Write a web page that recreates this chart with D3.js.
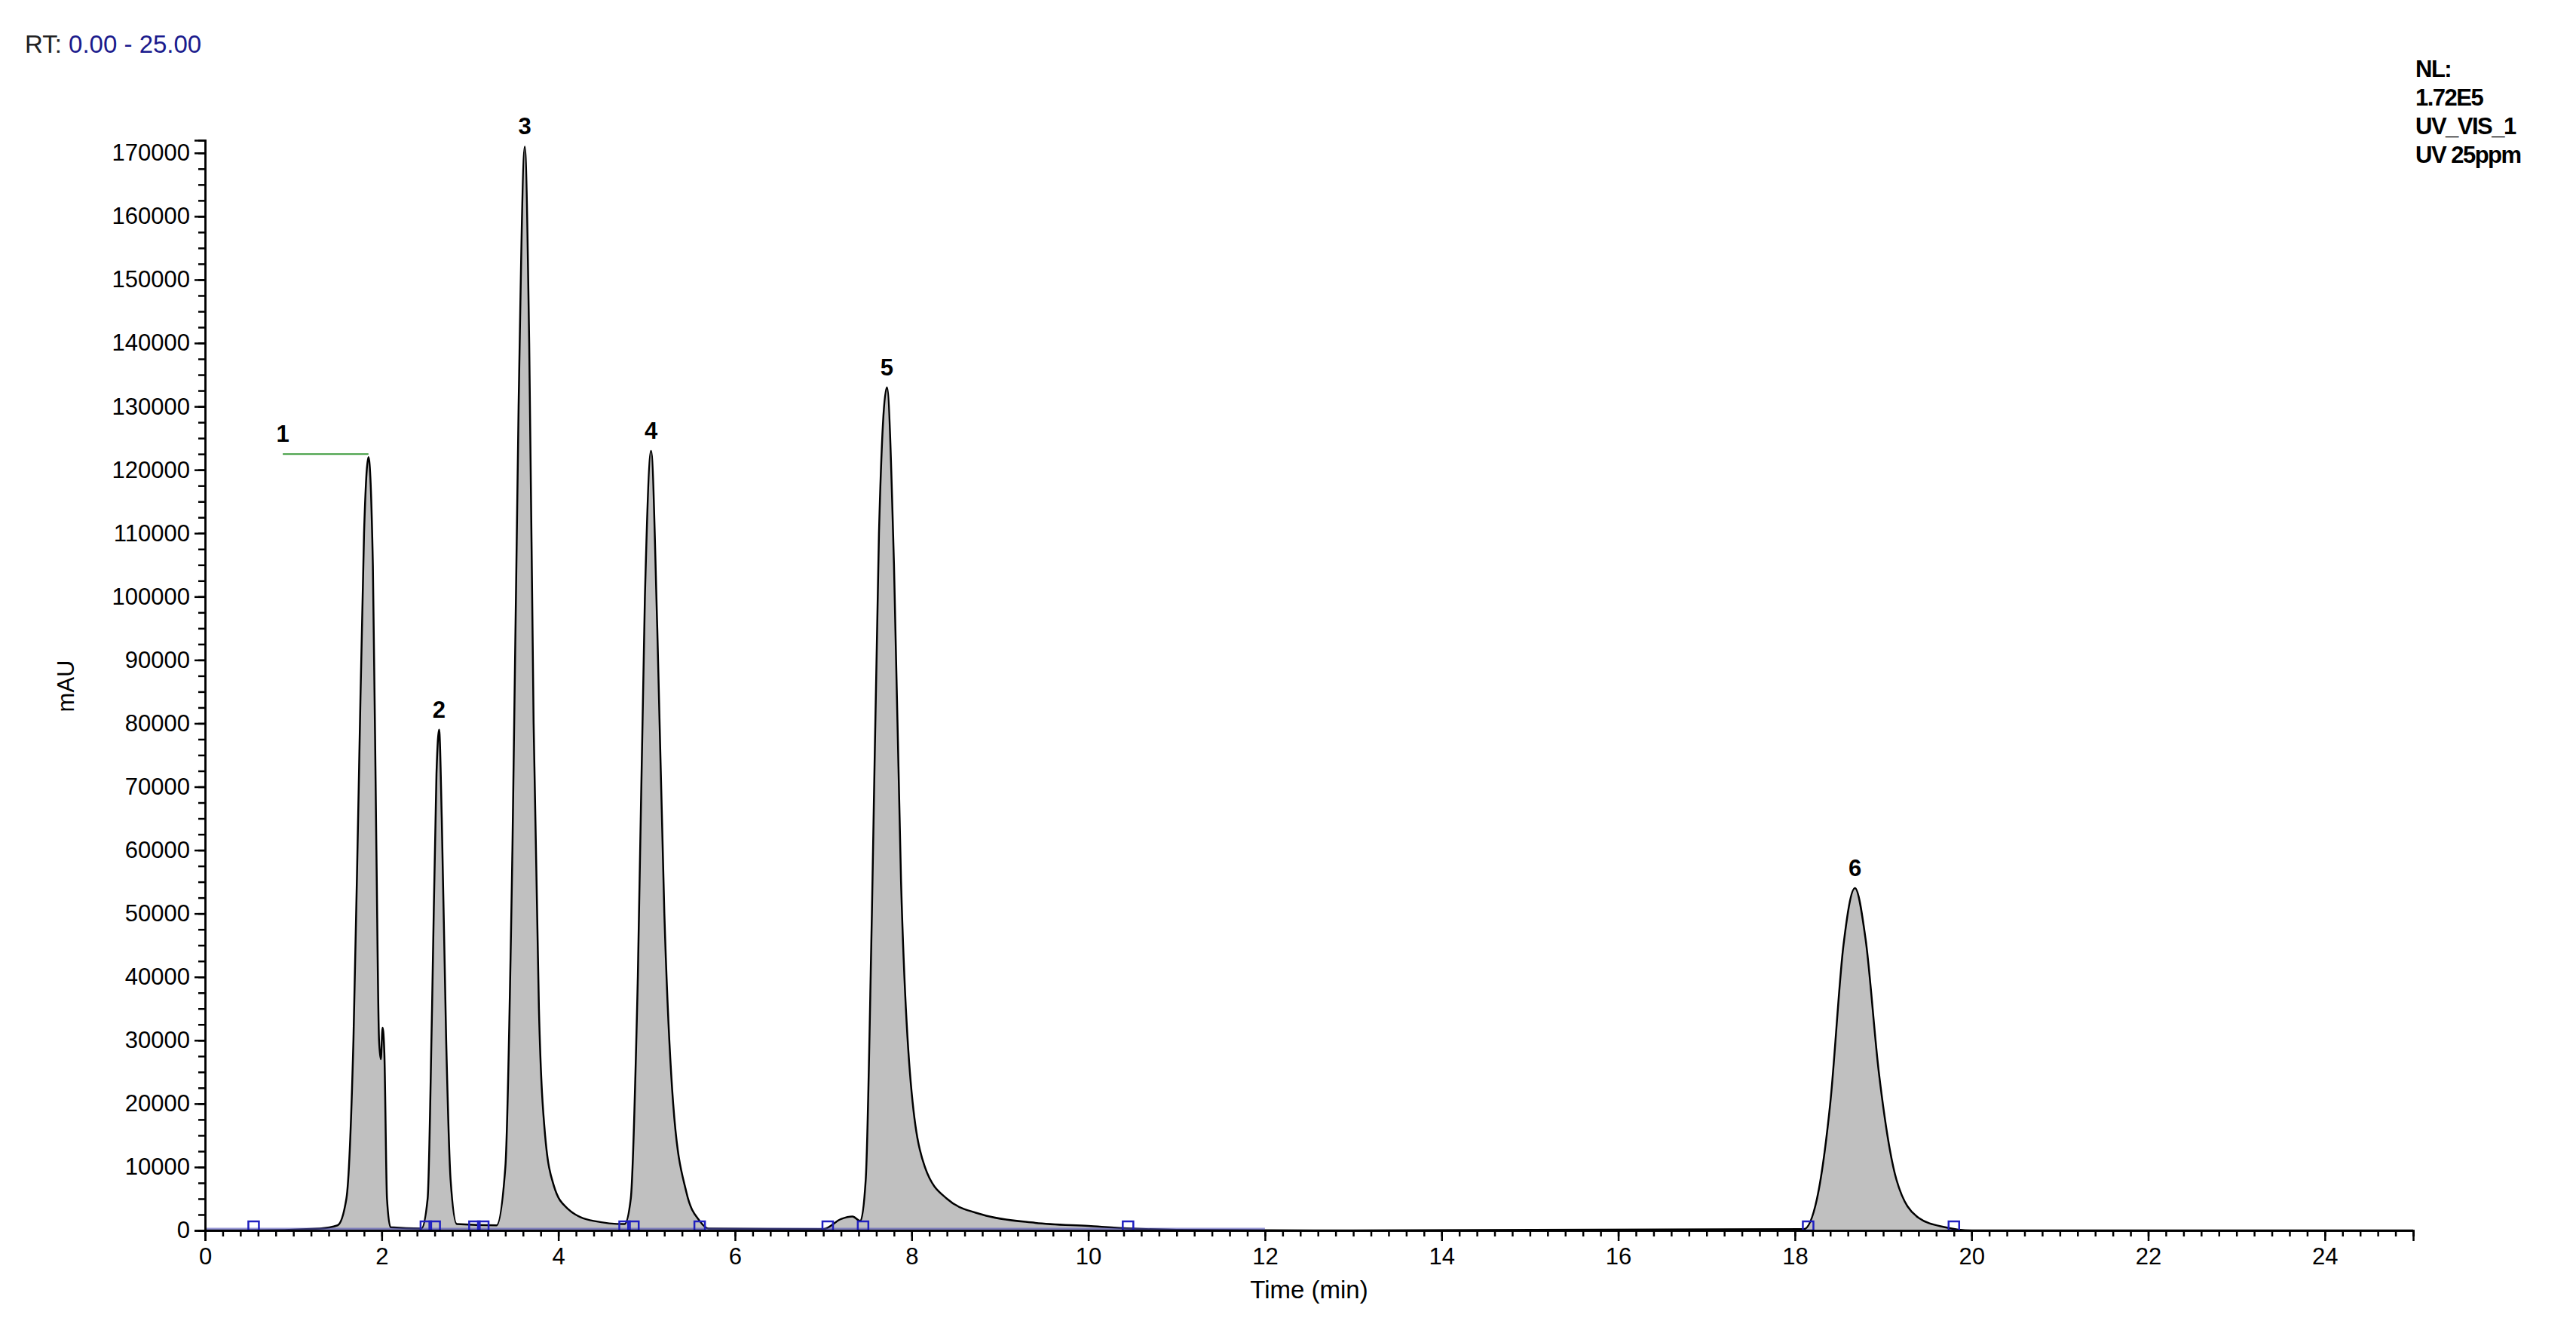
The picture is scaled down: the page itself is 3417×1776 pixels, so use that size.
<!DOCTYPE html><html><head><meta charset="utf-8">
<script src="https://cdn.jsdelivr.net/npm/d3@7"></script>
<style>body{margin:0;background:#fff}text{font-family:"Liberation Sans",Arial,sans-serif}</style></head><body>
<svg id="c" width="3417" height="1776"></svg>
<script>
const traceT=[0,0.5,1.3,1.5,1.6,1.68,1.74,1.8,1.85,1.9,1.94,1.97,1.99,2.01,2.03,2.06,2.1,2.45,2.52,2.57,2.62,2.65,2.68,2.73,2.78,2.85,3.3,3.4,3.48,3.55,3.62,3.67,3.72,3.78,3.85,3.95,4.1,4.4,4.75,4.82,4.9,4.98,5.05,5.12,5.2,5.3,5.45,5.6,5.7,7.0,7.2,7.33,7.42,7.48,7.55,7.63,7.72,7.8,7.88,7.98,8.15,8.4,8.8,9.4,10.0,10.5,11,13,18.1,18.25,18.4,18.55,18.68,18.8,18.95,19.15,19.4,19.7,20,25];
const traceV=[0,0,300,800,5000,30000,70000,110000,122000,105000,60000,30000,27000,32000,28000,5000,500,300,5000,35000,72000,79000,65000,30000,8000,1000,800,10000,60000,130000,171000,140000,80000,35000,15000,7000,3500,1500,1000,5000,40000,100000,123000,95000,50000,20000,6000,1500,300,200,1800,2200,1500,8000,50000,110000,133000,105000,55000,25000,10000,5000,2500,1200,700,300,100,0,200,5000,20000,45000,54000,46000,25000,8000,2000,500,0,0];
const peakLabels=["1","2","3","4","5","6"];
const peakT=[0.88,2.65,3.62,5.05,7.72,18.68];
const peakV=[122500,79000,171000,123000,133000,54000];
const markerT=[0.55,2.5,2.6,3.05,3.15,4.75,4.85,5.6,7.05,7.45,10.45,18.15,19.8];
const xTicks=d3.range(0,25,2);
const yTicks=d3.range(0,170001,10000);
const infoLines=["NL:","1.72E5","UV_VIS_1","UV 25ppm"];

const svg=d3.select("#c");
const x=d3.scaleLinear().domain([0,25]).range([272,3201]);
const y=d3.scaleLinear().domain([0,172000]).range([1632,186]);
const data=traceT.map((t,i)=>[t,traceV[i]]);

svg.append("path").datum(data).attr("fill","#c0c0c0")
 .attr("d",d3.area().x(d=>x(d[0])).y0(y(0)).y1(d=>y(d[1])).curve(d3.curveMonotoneX));
svg.append("path").datum(data).attr("fill","none").attr("stroke","#000").attr("stroke-width",2.5)
 .attr("d",d3.line().x(d=>x(d[0])).y(d=>y(d[1])).curve(d3.curveMonotoneX));
svg.append("line").attr("x1",x(0)).attr("x2",x(12)).attr("y1",y(0)-2).attr("y2",y(0)-2).attr("stroke","#5555bb").attr("stroke-width",3).attr("opacity",0.6);
svg.selectAll(".mk").data(markerT).enter().append("rect").attr("x",d=>x(d)-7).attr("y",y(0)-12).attr("width",14).attr("height",12).attr("fill","none").attr("stroke","#2020c0").attr("stroke-width",2.5);

// axes
const xa=svg.append("g").attr("transform",`translate(0,${y(0)})`)
 .call(d3.axisBottom(x).tickValues(xTicks).tickSize(14).tickFormat(d3.format("d")));
svg.append("g").attr("transform",`translate(0,${y(0)})`)
 .call(d3.axisBottom(x).tickValues(d3.range(0,25.01,0.2)).tickSize(8).tickFormat(""));
xa.selectAll("text").attr("font-size",31).attr("dy","0.9em");
const ya=svg.append("g").attr("transform",`translate(${x(0)},0)`)
 .call(d3.axisLeft(y).tickValues(yTicks).tickSize(14).tickFormat(d3.format("d")));
svg.append("g").attr("transform",`translate(${x(0)},0)`)
 .call(d3.axisLeft(y).tickValues(d3.range(0,172001,2500)).tickSize(9).tickFormat(""));
ya.selectAll("text").attr("font-size",31).attr("dx","-0.1em");
svg.selectAll(".domain").attr("stroke","#000").attr("stroke-width",2.5);
svg.selectAll(".tick line").attr("stroke","#000").attr("stroke-width",2.5);

svg.append("text").attr("x",(x(0)+x(25))/2).attr("y",1722).attr("text-anchor","middle").attr("font-size",33).text("Time (min)");
svg.append("text").attr("transform","translate(98,910) rotate(-90)").attr("text-anchor","middle").attr("font-size",31).text("mAU");
const rt=svg.append("text").attr("x",33).attr("y",70).attr("font-size",33);
rt.append("tspan").attr("fill","#222").text("RT: ");
rt.append("tspan").attr("fill","#1a1a8c").text("0.00 - 25.00");
infoLines.forEach((s,i)=>svg.append("text").attr("x",3204).attr("y",102+i*38).attr("font-size",31).attr("font-weight","bold").attr("letter-spacing",-1.5).text(s));

// peak labels
svg.append("line").attr("x1",x(0.88)).attr("x2",x(1.85)).attr("y1",y(122500)).attr("y2",y(122500)).attr("stroke","#3a9a3a").attr("stroke-width",2);
peakLabels.forEach((s,i)=>svg.append("text").attr("x",x(peakT[i])).attr("y",y(peakV[i])-16).attr("text-anchor","middle").attr("font-size",31).attr("font-weight","bold").text(s));
</script></body></html>
